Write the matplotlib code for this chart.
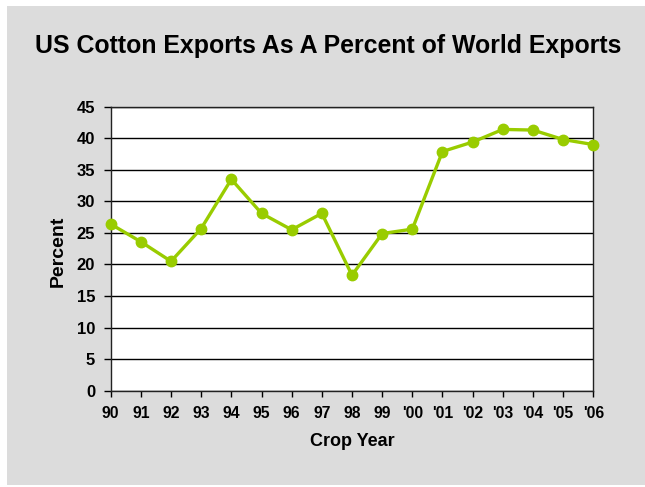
import matplotlib.pyplot as plt
from matplotlib.patches import Rectangle

# crop years and US share of world cotton exports (percent)
years = ["90", "91", "92", "93", "94", "95", "96", "97", "98", "99",
         "'00", "'01", "'02", "'03", "'04", "'05", "'06"]
percent = [26.4, 23.6, 20.5, 25.7, 33.5, 28.1, 25.5, 28.1, 18.3, 24.9,
           25.6, 37.9, 39.4, 41.4, 41.3, 39.8, 39.0]

plt.rcParams['font.family'] = ['Liberation Sans', 'DejaVu Sans']

fig = plt.figure(figsize=(6.45, 4.87), dpi=100)
fig.patch.set_facecolor("white")
# gray chart area, leaving a thin white strip top and left
fig.patches.append(Rectangle((7 / 645, 2 / 487), 638 / 645, 479 / 487,
                             transform=fig.transFigure, facecolor="#dcdcdc",
                             edgecolor="none", zorder=0))

ax = fig.add_axes([110.7 / 645, 96.3 / 487, 482.6 / 645, 284 / 487])
ax.set_zorder(2)
ax.set_facecolor("white")

x = list(range(len(years)))
ax.plot(x, percent, color="#99cc00", lw=2.4, marker="o", ms=7.5,
        zorder=3, clip_on=False)

ax.set_xlim(0, len(years) - 1)
ax.set_ylim(0, 45)
ax.set_yticks(range(0, 46, 5))
ax.set_xticks(x)
ax.set_xticklabels(years)
ax.yaxis.grid(True, color="black", lw=1)
ax.set_axisbelow(True)

for s in ax.spines.values():
    s.set_color("#222222")
    s.set_linewidth(1)

ax.tick_params(axis="y", direction="out", length=4.7, width=1,
               labelsize=12, pad=6.5)
ax.tick_params(axis="x", direction="out", length=4.3, width=1,
               labelsize=11.3, pad=7)
for lbl in ax.get_xticklabels() + ax.get_yticklabels():
    lbl.set_fontweight("bold")

ax.set_xlabel("Crop Year", fontsize=13, fontweight="bold", va="center")
ax.xaxis.set_label_coords(0.5, (390.7 - 442) / 284)
ax.set_ylabel("Percent", fontsize=14, fontweight="bold", va="center")
ax.yaxis.set_label_coords((58 - 110.7) / 482.6, (390.7 - 251) / 284)

fig.text(328 / 645, 1 - 46.5 / 487, "US Cotton Exports As A Percent of World Exports",
         ha="center", va="center", fontsize=17.9, fontweight="bold")

fig.savefig("out.png", dpi=100)
